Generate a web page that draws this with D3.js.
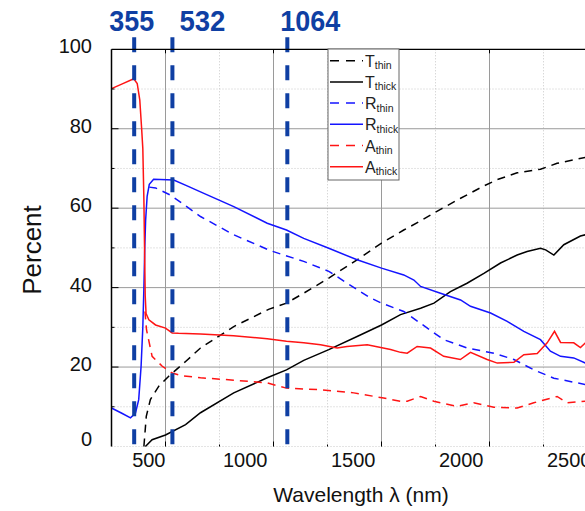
<!DOCTYPE html>
<html>
<head>
<meta charset="utf-8">
<script src="https://cdn.jsdelivr.net/npm/d3@7"></script>
<style>
body { margin: 0; background: #fff; }
svg { display: block; font-family: Arial, "Liberation Sans", sans-serif; }
</style>
</head>
<body>
<div id="chart"></div>
<script>
// [wavelength nm, percent]
var tThin = [[400, 0], [411, 7.6], [430, 11.8], [469, 15.2], [515, 17.7], [593, 21.4], [662, 24.8], [816, 30.2], [980, 34.6], [1060, 36.1], [1140, 38.6], [1256, 42.4], [1387, 47], [1500, 51.2], [1603, 54.5], [1681, 56.8], [1773, 59.7], [1866, 62.5], [1974, 65.6], [2036, 67.2], [2128, 68.9], [2236, 69.8], [2313, 71.3], [2444, 72.8], [2500, 73.2]];
var tThick = [[407, 0], [438, 1.7], [500, 2.9], [593, 5.5], [662, 8.5], [816, 13.5], [971, 17.3], [1060, 19.3], [1140, 21.7], [1256, 24.4], [1387, 27.7], [1500, 30.6], [1588, 33.2], [1681, 34.8], [1743, 36.1], [1819, 39], [1896, 41.1], [1974, 43.6], [2051, 46.2], [2128, 48.2], [2174, 49.1], [2236, 49.9], [2260, 49.5], [2298, 48.2], [2344, 50.8], [2421, 53], [2444, 53.3], [2500, 53.8]];
var rThin = [[425, 65.3], [454, 65.1], [523, 63.3], [662, 57.9], [816, 53.3], [986, 49.3], [1140, 46.6], [1256, 44.1], [1341, 41.1], [1449, 37.4], [1500, 36.1], [1603, 34], [1681, 31], [1788, 26.9], [1896, 24.8], [2020, 23.5], [2113, 21.9], [2205, 19.3], [2298, 17.2], [2444, 15.6], [2500, 15.1]];
var rThick = [[250, 9.7], [300, 8.3], [338, 7.2], [361, 8.4], [376, 11.8], [387, 20.2], [395, 30], [400, 40], [404, 50], [408, 57], [415, 63], [425, 66], [445, 67.3], [538, 67.1], [600, 65.6], [662, 64.1], [816, 60.4], [971, 56.2], [1060, 54.5], [1140, 52.4], [1256, 49.9], [1387, 47], [1500, 44.9], [1603, 43.2], [1650, 41.9], [1681, 40.3], [1773, 38.6], [1866, 36.9], [1912, 35.3], [2005, 33.6], [2082, 31.5], [2159, 29], [2236, 26.9], [2282, 24], [2329, 22.7], [2390, 22.3], [2444, 21], [2500, 20.4]];
var aThin = [[405, 34], [412, 29.4], [438, 22.7], [485, 20.2], [531, 18.5], [577, 17.8], [662, 17.3], [816, 16.7], [971, 16], [1060, 14.7], [1218, 14.3], [1372, 13.5], [1510, 12.2], [1588, 11.4], [1619, 11.4], [1681, 12.6], [1742, 11.4], [1850, 10.1], [1927, 11], [2020, 9.9], [2128, 9.7], [2205, 11], [2313, 12.6], [2359, 11], [2444, 11.4], [2500, 11.5]];
var aThick = [[250, 90.1], [300, 91.3], [353, 92.6], [369, 91.4], [381, 87.2], [389, 80.5], [395, 75], [400, 62], [403, 50], [406, 38], [410, 33.5], [423, 31.9], [454, 30.6], [500, 29.8], [531, 28.6], [560, 28.5], [662, 28.3], [815, 27.9], [971, 27.1], [1060, 26.5], [1140, 26.1], [1218, 25.6], [1295, 24.8], [1340, 25.2], [1434, 25.6], [1542, 24.4], [1588, 23.7], [1619, 23.5], [1665, 25.2], [1727, 24.8], [1788, 22.7], [1865, 21.9], [1912, 23.7], [1989, 21.9], [2036, 21], [2113, 21.2], [2159, 23.1], [2221, 23.4], [2267, 26.1], [2301, 29], [2329, 26.2], [2390, 26.1], [2421, 24.9], [2444, 26.1], [2500, 26]];

var xTicks = [500, 1000, 1500, 2000, 2500];
var xMinorTicks = [750, 1250, 1750, 2250];
var yTicks = [0, 20, 40, 60, 80, 100];
var yMinorTicks = [10, 30, 50, 70, 90];
var laserLines = [355, 532, 1064];
var laserLabels = ['355', '532', '1064'];

var series = [
    {main: 'T', sub: 'thin', data: tThin, color: '#000000', dashed: true},
    {main: 'T', sub: 'thick', data: tThick, color: '#000000', dashed: false},
    {main: 'R', sub: 'thin', data: rThin, color: '#1414ff', dashed: true},
    {main: 'R', sub: 'thick', data: rThick, color: '#1414ff', dashed: false},
    {main: 'A', sub: 'thin', data: aThin, color: '#ff1414', dashed: true},
    {main: 'A', sub: 'thick', data: aThick, color: '#ff1414', dashed: false}
];

var width = 585, height = 511;
var laserColor = '#0f3fa3';

var svg = d3.select('#chart').append('svg')
    .attr('width', width)
    .attr('height', height);

var x = d3.scaleLinear().domain([250, 2500]).range([111.5, 597.5]);
var y = d3.scaleLinear().domain([0, 100]).range([446.5, 49.3]);

var plotLeft = x(250), plotRight = x(2500), plotTop = y(100), plotBottom = y(0);

// grid
var grid = svg.append('g');
grid.selectAll('.vminor').data(xMinorTicks).enter().append('line')
    .attr('x1', d => x(d)).attr('x2', d => x(d))
    .attr('y1', plotTop).attr('y2', plotBottom)
    .attr('stroke', '#c8c8c8').attr('stroke-dasharray', '1,2');
grid.selectAll('.hminor').data(yMinorTicks.concat([0])).enter().append('line')
    .attr('x1', plotLeft).attr('x2', plotRight)
    .attr('y1', d => y(d)).attr('y2', d => y(d))
    .attr('stroke', '#c8c8c8').attr('stroke-dasharray', '1,2');
grid.selectAll('.vmajor').data(xTicks).enter().append('line')
    .attr('x1', d => x(d)).attr('x2', d => x(d))
    .attr('y1', plotTop).attr('y2', plotBottom)
    .attr('stroke', '#9a9a9a');
grid.selectAll('.hmajor').data(yTicks.filter(d => d > 0 && d < 100)).enter().append('line')
    .attr('x1', plotLeft).attr('x2', plotRight)
    .attr('y1', d => y(d)).attr('y2', d => y(d))
    .attr('stroke', '#9a9a9a');

// curves
var line = d3.line().x(d => x(d[0])).y(d => y(d[1]));
svg.append('g').selectAll('path').data(series).enter().append('path')
    .attr('d', d => line(d.data))
    .attr('fill', 'none')
    .attr('stroke', d => d.color)
    .attr('stroke-width', 1.5)
    .attr('stroke-dasharray', d => d.dashed ? '8,6' : null);

// laser lines
svg.append('g').selectAll('line').data(laserLines).enter().append('line')
    .attr('x1', d => x(d)).attr('x2', d => x(d))
    .attr('y1', plotTop - 12).attr('y2', plotBottom)
    .attr('stroke', laserColor)
    .attr('stroke-width', 4)
    .attr('stroke-dasharray', '15,13');

var labelDx = [-2.5, 30, 23];
var labelLen = [45, 46, 60];
svg.append('g').selectAll('text').data(laserLines).enter().append('text')
    .attr('x', (d, i) => x(d) + labelDx[i])
    .attr('y', 31)
    .attr('text-anchor', 'middle')
    .attr('font-size', 30)
    .attr('font-weight', 'bold')
    .attr('fill', laserColor)
    .attr('textLength', (d, i) => labelLen[i])
    .attr('lengthAdjust', 'spacingAndGlyphs')
    .text((d, i) => laserLabels[i]);

// axes lines and ticks
var axes = svg.append('g').attr('stroke', '#000');
axes.append('line').attr('x1', plotLeft).attr('x2', plotRight).attr('y1', plotTop).attr('y2', plotTop).attr('stroke-width', 1.2);
axes.append('line').attr('x1', plotLeft).attr('x2', plotLeft).attr('y1', plotTop).attr('y2', plotBottom).attr('stroke-width', 1.5);
axes.selectAll('.yt').data(yTicks.filter(d => d > 0 && d < 100)).enter().append('line')
    .attr('x1', plotLeft).attr('x2', plotLeft + 7).attr('y1', d => y(d)).attr('y2', d => y(d));
axes.selectAll('.ytm').data(yMinorTicks).enter().append('line')
    .attr('x1', plotLeft).attr('x2', plotLeft + 3).attr('y1', d => y(d)).attr('y2', d => y(d));
axes.selectAll('.xt').data(xTicks).enter().append('line')
    .attr('x1', d => x(d)).attr('x2', d => x(d)).attr('y1', plotBottom).attr('y2', plotBottom - 5);
axes.selectAll('.xtm').data(xMinorTicks).enter().append('line')
    .attr('x1', d => x(d)).attr('x2', d => x(d)).attr('y1', plotBottom).attr('y2', plotBottom - 2);
axes.selectAll('.xtt').data(xTicks).enter().append('line')
    .attr('x1', d => x(d)).attr('x2', d => x(d)).attr('y1', plotTop).attr('y2', plotTop + 4);

// tick labels
svg.append('g').selectAll('text').data(yTicks).enter().append('text')
    .attr('x', 92)
    .attr('y', d => y(d) - (d === 0 ? 8 : 3))
    .attr('dy', '0.35em')
    .attr('text-anchor', 'end')
    .attr('font-size', 20)
    .attr('fill', '#111')
    .text(d => d);

svg.append('g').selectAll('text').data(xTicks).enter().append('text')
    .attr('x', d => x(d) - (d === 500 ? 0 : 6))
    .attr('y', 467)
    .attr('text-anchor', 'end')
    .attr('font-size', 20)
    .attr('fill', '#111')
    .text(d => d);

svg.append('text')
    .attr('x', 361).attr('y', 502)
    .attr('text-anchor', 'middle')
    .attr('font-size', 21)
    .attr('fill', '#111')
    .text('Wavelength \u03bb (nm)');

svg.append('text')
    .attr('transform', 'translate(41,250) rotate(-90)')
    .attr('text-anchor', 'middle')
    .attr('font-size', 26)
    .attr('fill', '#111')
    .text('Percent');

// legend
var legend = svg.append('g').attr('transform', 'translate(328,49)');
legend.append('rect')
    .attr('width', 71).attr('height', 131)
    .attr('fill', '#fff').attr('stroke', '#666');
var items = legend.selectAll('.item').data(series).enter().append('g')
    .attr('transform', (d, i) => 'translate(0,' + (11.7 + i * 21.2) + ')');
items.append('line')
    .attr('x1', 2).attr('x2', 35)
    .attr('stroke', d => d.color)
    .attr('stroke-width', 1.5)
    .attr('stroke-dasharray', d => d.dashed ? '9,7' : null);
var lt = items.append('text').attr('x', 37).attr('y', 6).attr('fill', '#222');
lt.append('tspan').attr('font-size', 16).text(d => d.main);
lt.append('tspan').attr('font-size', 10.5).attr('dy', 2.5).text(d => d.sub);
</script>
</body>
</html>
